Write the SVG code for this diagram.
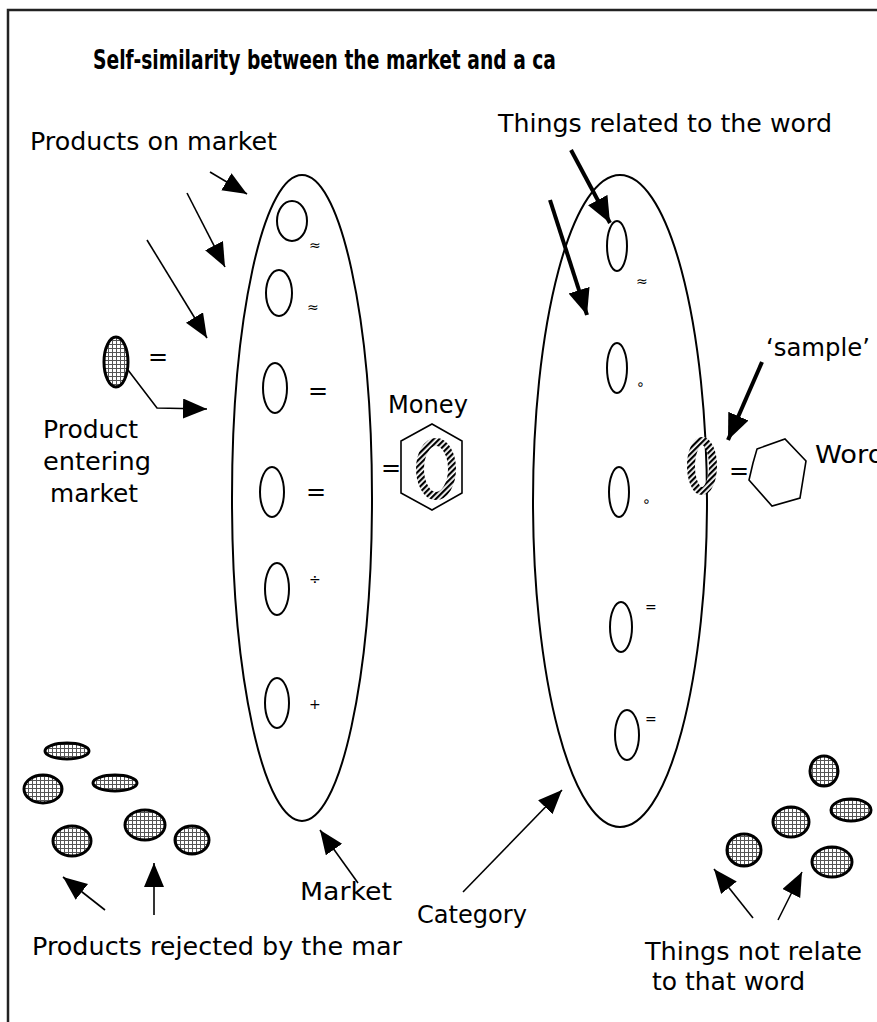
<svg xmlns="http://www.w3.org/2000/svg" width="877" height="1022" viewBox="0 0 877 1022">
<defs>
<style>
.t{font-family:"DejaVu Sans","Liberation Sans",sans-serif;font-size:24px;fill:#000}
.tb{font-family:"DejaVu Sans","Liberation Sans",sans-serif;font-size:27px;font-weight:bold;fill:#000}
.sym{font-family:"DejaVu Sans",sans-serif;font-size:14px;fill:#000}
.big{fill:none;stroke:#000;stroke-width:2}
.sm{fill:none;stroke:#000;stroke-width:2}
.dot{fill:url(#grid);stroke:#000;stroke-width:3}
.hat{fill:none;stroke:url(#hatch);stroke-width:8}
.thin{fill:none;stroke:#000;stroke-width:1.6;marker-end:url(#ah)}
.thick{fill:none;stroke:#000;stroke-width:4;marker-end:url(#ahb)}
</style>
<pattern id="grid" patternUnits="userSpaceOnUse" width="4" height="4">
<rect width="4" height="4" fill="#fff"/>
<rect width="4" height="1" fill="#555"/>
<rect width="1" height="4" fill="#555"/>
</pattern>
<pattern id="hatch" patternUnits="userSpaceOnUse" width="4" height="4" patternTransform="rotate(45)">
<rect width="4" height="4" fill="#fff"/>
<rect width="2.2" height="4" fill="#000"/>
</pattern>
<marker id="ah" markerUnits="userSpaceOnUse" markerWidth="26" markerHeight="22" refX="24" refY="10" orient="auto">
<path d="M0,0 L24,10 L0,20 z" fill="#000"/>
</marker>
<marker id="ahb" markerUnits="userSpaceOnUse" markerWidth="28" markerHeight="24" refX="26" refY="11" orient="auto">
<path d="M0,0 L26,11 L0,22 z" fill="#000"/>
</marker>
</defs>
<rect width="877" height="1022" fill="#fff"/>
<g id="frame">
<path d="M8,1022 V10 H877" fill="none" stroke="#222" stroke-width="2.5"/>
</g>
<g id="title">
<text class="tb" x="93" y="69" textLength="463" lengthAdjust="spacingAndGlyphs">Self-similarity between the market and a ca</text>
</g>
<g id="market">
<ellipse class="big" cx="302" cy="498" rx="70" ry="323"/>
<ellipse class="sm" cx="292" cy="221" rx="15" ry="20"/>
<ellipse class="sm" cx="279" cy="293" rx="13" ry="23"/>
<ellipse class="sm" cx="275" cy="388" rx="12" ry="25"/>
<ellipse class="sm" cx="272" cy="492" rx="12" ry="25"/>
<ellipse class="sm" cx="277" cy="589" rx="12" ry="26"/>
<ellipse class="sm" cx="277" cy="703" rx="12" ry="25"/>
<text class="sym" x="309" y="250">≈</text>
<text class="sym" x="307" y="312">≈</text>
<text class="t" x="308" y="399" font-size="20">=</text>
<text class="t" x="306" y="500" font-size="20">=</text>
<text class="sym" x="309" y="584">÷</text>
<text class="sym" x="309" y="709">+</text>
<text class="t" x="300" y="900" textLength="92" lengthAdjust="spacingAndGlyphs">Market</text>
</g>
<g id="category">
<ellipse class="big" cx="620" cy="501" rx="87" ry="326"/>
<ellipse class="sm" cx="617" cy="246" rx="10" ry="25"/>
<ellipse class="sm" cx="617" cy="368" rx="10" ry="25"/>
<ellipse class="sm" cx="619" cy="492" rx="10" ry="25"/>
<ellipse class="sm" cx="621" cy="627" rx="11" ry="25"/>
<ellipse class="sm" cx="627" cy="735" rx="12" ry="25"/>
<text class="sym" x="636" y="286">≈</text>
<text class="sym" x="636" y="389">∘</text>
<text class="sym" x="642" y="506">∘</text>
<text class="sym" x="645" y="612">=</text>
<text class="sym" x="645" y="724">=</text>
<text class="t" x="417" y="923" textLength="110" lengthAdjust="spacingAndGlyphs">Category</text>
</g>
<g id="products-on-market">
<text class="t" x="30" y="150" textLength="247" lengthAdjust="spacingAndGlyphs">Products on market</text>
</g>
<g id="things-related">
<text class="t" x="498" y="132" textLength="334" lengthAdjust="spacingAndGlyphs">Things related to the word</text>
</g>
<g id="product-entering">
<ellipse class="dot" cx="116" cy="362" rx="12" ry="25"/>
<text class="t" x="148" y="365" font-size="20">=</text>
<text class="t" x="43" y="438" textLength="95" lengthAdjust="spacingAndGlyphs">Product</text>
<text class="t" x="43" y="470" textLength="108" lengthAdjust="spacingAndGlyphs">entering</text>
<text class="t" x="50" y="502" textLength="88" lengthAdjust="spacingAndGlyphs">market</text>
</g>
<g id="money">
<text class="t" x="388" y="413" textLength="80" lengthAdjust="spacingAndGlyphs">Money</text>
<polygon points="432,424 462,441 462,493 432,510 401,493 401,441" fill="none" stroke="#000" stroke-width="1.6"/>
<ellipse class="hat" cx="436" cy="469" rx="16" ry="27"/>
<text class="t" x="381" y="476" font-size="20">=</text>
</g>
<g id="sample">
<ellipse class="hat" cx="702" cy="466" rx="11" ry="25"/>
<text class="t" x="766" y="356" textLength="104" lengthAdjust="spacingAndGlyphs">‘sample’</text>
</g>
<g id="word">
<text class="t" x="729" y="479" font-size="20">=</text>
<polygon points="757,449 785,439 806,461 800,498 772,506 749,480 753,463" fill="none" stroke="#000" stroke-width="1.6"/>
<text class="t" x="815" y="463" textLength="70" lengthAdjust="spacingAndGlyphs">Word</text>
</g>
<g id="rejected-products">
<ellipse class="dot" cx="67" cy="751" rx="22" ry="8"/>
<ellipse class="dot" cx="43" cy="789" rx="19" ry="14"/>
<ellipse class="dot" cx="115" cy="783" rx="22" ry="8"/>
<ellipse class="dot" cx="72" cy="841" rx="19" ry="15"/>
<ellipse class="dot" cx="145" cy="825" rx="20" ry="15"/>
<ellipse class="dot" cx="192" cy="840" rx="17" ry="14"/>
<text class="t" x="32" y="955" textLength="370" lengthAdjust="spacingAndGlyphs">Products rejected by the mar</text>
</g>
<g id="not-related">
<ellipse class="dot" cx="824" cy="771" rx="14" ry="15"/>
<ellipse class="dot" cx="851" cy="810" rx="20" ry="11"/>
<ellipse class="dot" cx="791" cy="822" rx="18" ry="15"/>
<ellipse class="dot" cx="744" cy="850" rx="17" ry="16"/>
<ellipse class="dot" cx="832" cy="862" rx="20" ry="15"/>
<text class="t" x="645" y="960" textLength="217" lengthAdjust="spacingAndGlyphs">Things not relate</text>
<text class="t" x="652" y="990" textLength="153" lengthAdjust="spacingAndGlyphs">to that word</text>
</g>
<g id="connectors">
<path class="thin" d="M210,172 L247,194"/>
<path class="thin" d="M187,193 L225,267"/>
<path class="thin" d="M147,240 L207,338"/>
<path class="thin" d="M128,370 L157,408 L207,409"/>
<path class="thick" d="M571,150 L610,223"/>
<path class="thick" d="M550,200 L587,315"/>
<path class="thick" d="M762,362 L728,440"/>
<path class="thin" d="M358,883 L320,830"/>
<path class="thin" d="M105,910 L63,877"/>
<path class="thin" d="M154,915 L154,863"/>
<path class="thin" d="M463,892 L562,790"/>
<path class="thin" d="M753,918 L714,869"/>
<path class="thin" d="M778,920 L802,872"/>
</g>
</svg>
